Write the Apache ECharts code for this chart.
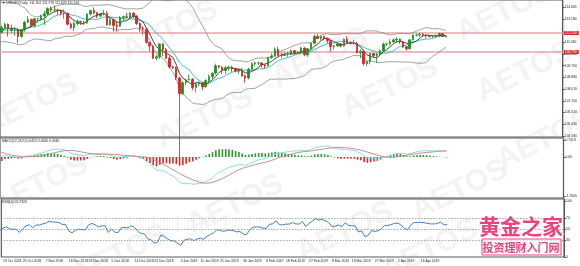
<!DOCTYPE html>
<html><head><meta charset="utf-8">
<script src="https://cdn.jsdelivr.net/npm/echarts@6/dist/echarts.min.js"></script>
<style>html,body{margin:0;padding:0;background:#fff}#c{width:580px;height:266px}</style>
</head><body><div id="c"></div>
<script>
// ---- data (daily USDJPY, first 34 bars are indicator history before the visible window) ----
const dates = ["3 Sep 2018","4 Sep 2018","5 Sep 2018","6 Sep 2018","7 Sep 2018","10 Sep 2018","11 Sep 2018","12 Sep 2018","13 Sep 2018","14 Sep 2018","17 Sep 2018","18 Sep 2018","19 Sep 2018","20 Sep 2018","21 Sep 2018","24 Sep 2018","25 Sep 2018","26 Sep 2018","27 Sep 2018","28 Sep 2018","1 Oct 2018","2 Oct 2018","3 Oct 2018","4 Oct 2018","5 Oct 2018","8 Oct 2018","9 Oct 2018","10 Oct 2018","11 Oct 2018","12 Oct 2018","15 Oct 2018","16 Oct 2018","17 Oct 2018","18 Oct 2018",
"19 Oct 2018","22 Oct 2018","23 Oct 2018","24 Oct 2018","25 Oct 2018","26 Oct 2018","29 Oct 2018","30 Oct 2018","31 Oct 2018",
"1 Nov 2018","2 Nov 2018","5 Nov 2018","6 Nov 2018","7 Nov 2018","8 Nov 2018","9 Nov 2018","12 Nov 2018","13 Nov 2018","14 Nov 2018","15 Nov 2018","16 Nov 2018","19 Nov 2018","20 Nov 2018","21 Nov 2018","22 Nov 2018","23 Nov 2018","26 Nov 2018","27 Nov 2018","28 Nov 2018","29 Nov 2018","30 Nov 2018",
"3 Dec 2018","4 Dec 2018","5 Dec 2018","6 Dec 2018","7 Dec 2018","10 Dec 2018","11 Dec 2018","12 Dec 2018","13 Dec 2018","14 Dec 2018","17 Dec 2018","18 Dec 2018","19 Dec 2018","20 Dec 2018","21 Dec 2018","24 Dec 2018","25 Dec 2018","26 Dec 2018","27 Dec 2018","28 Dec 2018","31 Dec 2018",
"1 Jan 2019","2 Jan 2019","3 Jan 2019","4 Jan 2019","7 Jan 2019","8 Jan 2019","9 Jan 2019","10 Jan 2019","11 Jan 2019","14 Jan 2019","15 Jan 2019","16 Jan 2019","17 Jan 2019","18 Jan 2019","21 Jan 2019","22 Jan 2019","23 Jan 2019","24 Jan 2019","25 Jan 2019","28 Jan 2019","29 Jan 2019","30 Jan 2019","31 Jan 2019",
"1 Feb 2019","4 Feb 2019","5 Feb 2019","6 Feb 2019","7 Feb 2019","8 Feb 2019","11 Feb 2019","12 Feb 2019","13 Feb 2019","14 Feb 2019","15 Feb 2019","18 Feb 2019","19 Feb 2019","20 Feb 2019","21 Feb 2019","22 Feb 2019","25 Feb 2019","26 Feb 2019","27 Feb 2019","28 Feb 2019",
"1 Mar 2019","4 Mar 2019","5 Mar 2019","6 Mar 2019","7 Mar 2019","8 Mar 2019","11 Mar 2019","12 Mar 2019","13 Mar 2019","14 Mar 2019","15 Mar 2019","18 Mar 2019","19 Mar 2019","20 Mar 2019","21 Mar 2019","22 Mar 2019","25 Mar 2019","26 Mar 2019","27 Mar 2019","28 Mar 2019","29 Mar 2019",
"1 Apr 2019","2 Apr 2019","3 Apr 2019","4 Apr 2019","5 Apr 2019","8 Apr 2019","9 Apr 2019","10 Apr 2019","11 Apr 2019","12 Apr 2019","15 Apr 2019","16 Apr 2019","17 Apr 2019","18 Apr 2019","19 Apr 2019","22 Apr 2019","23 Apr 2019","24 Apr 2019","25 Apr 2019","26 Apr 2019"];

const opens = [111.05,111.05,111.45,111.50,110.95,111.00,111.10,111.60,111.25,111.90,112.05,111.80,112.30,112.25,112.50,112.60,112.80,112.95,112.75,113.40,113.70,113.95,113.65,114.45,113.90,113.70,113.20,112.95,112.25,112.15,112.20,111.75,112.25,112.65,
112.20,112.55,112.80,112.45,112.40,112.40,111.90,112.40,112.95,
113.15,112.70,113.20,113.20,113.40,113.55,113.95,113.85,113.85,113.80,113.60,113.60,112.80,112.55,112.85,113.00,112.95,112.90,113.55,113.80,113.65,113.40,
113.55,113.60,112.75,113.15,112.70,112.65,113.30,113.35,113.30,113.60,113.40,112.85,112.50,112.45,111.45,111.20,110.30,110.40,111.35,110.95,110.30,
109.65,109.60,108.85,107.70,108.50,108.70,108.75,108.15,108.40,108.50,108.20,108.65,108.95,109.20,109.75,109.65,109.40,109.60,109.65,109.55,109.35,109.40,109.00,
108.85,109.50,109.90,109.95,109.95,109.80,109.75,110.35,110.45,110.95,110.50,110.50,110.60,110.60,110.85,110.70,110.70,111.05,110.55,111.00,
111.40,111.90,111.75,111.90,111.75,111.60,111.15,111.20,111.35,111.20,111.70,111.45,111.40,111.40,110.70,110.80,109.90,110.05,110.65,110.50,110.60,
110.85,111.35,111.35,111.50,111.65,111.70,111.50,111.15,111.00,111.65,112.00,112.00,112.05,112.00,111.95,111.90,111.90,111.95,112.10,111.902];

const highs = [111.20,111.55,111.75,111.55,111.10,111.20,111.65,111.65,112.05,112.15,112.10,112.40,112.45,112.55,112.85,112.90,113.05,113.15,113.45,113.70,114.05,114.00,114.55,114.55,114.05,113.80,113.30,113.00,112.45,112.35,112.25,112.30,112.75,112.70,
112.70,112.90,112.85,112.75,112.55,112.50,112.45,113.05,113.40,
113.20,113.25,113.25,113.50,113.80,114.05,114.10,114.20,113.95,113.90,113.90,113.65,112.90,113.00,113.15,113.05,113.05,113.60,113.85,114.05,113.70,113.60,
113.85,113.75,113.30,113.20,113.00,113.40,113.45,113.65,113.70,113.70,113.45,112.95,112.65,112.55,111.50,111.25,110.55,111.40,111.40,111.05,110.45,
109.75,109.70,108.95,108.60,108.80,109.10,108.85,108.50,108.60,108.55,108.75,109.10,109.25,109.90,109.80,109.70,109.75,109.75,109.75,109.60,109.55,109.60,109.10,
109.60,110.00,110.05,110.05,110.00,109.85,110.40,110.65,111.10,111.15,110.70,110.70,110.75,110.95,110.90,110.80,111.15,111.10,111.05,111.45,
112.05,112.10,111.95,111.95,111.80,111.65,111.30,111.45,111.40,111.75,111.90,111.55,111.65,111.50,110.95,110.95,110.10,110.70,110.70,110.70,110.95,
111.45,111.45,111.70,111.75,111.85,111.75,111.55,111.20,111.70,112.05,112.10,112.15,112.15,112.05,111.95,112.00,112.05,112.20,112.15,111.978];

const lows = [110.85,110.90,111.25,110.40,110.40,110.80,110.95,111.05,111.05,111.80,111.65,111.60,112.05,112.05,112.40,112.45,112.70,112.75,112.60,113.25,113.60,113.50,113.60,113.65,113.60,113.05,112.75,112.15,111.85,111.95,111.60,111.65,112.10,112.00,
112.10,112.40,111.90,112.15,111.95,111.40,111.80,112.25,112.90,
112.60,112.55,112.90,113.05,112.75,113.50,113.70,113.70,113.50,113.45,113.20,112.70,112.45,112.30,112.70,112.75,112.75,112.80,113.45,113.50,113.25,113.30,
113.45,112.70,112.70,112.25,112.25,112.60,113.05,113.25,113.25,113.25,112.75,112.25,112.05,111.40,110.80,110.25,110.15,110.25,110.45,110.25,109.55,
109.50,108.70,102.80,107.60,108.30,108.65,107.95,107.80,108.25,107.95,108.15,108.55,108.75,109.10,109.55,109.15,109.15,109.40,109.30,109.25,109.15,108.95,108.50,
108.75,109.40,109.75,109.80,109.60,109.55,109.70,110.25,110.40,110.45,110.30,110.45,110.40,110.55,110.55,110.60,110.60,110.45,110.40,110.85,
111.35,111.70,111.60,111.60,111.40,110.80,110.95,111.15,111.10,111.15,111.40,111.30,111.30,110.65,110.30,109.75,109.70,109.85,110.30,109.95,110.50,
110.80,111.20,111.25,111.45,111.45,111.35,111.05,110.85,110.95,111.60,111.90,111.85,111.90,111.75,111.85,111.80,111.80,111.85,111.85,111.829];

const closes = [111.05,111.45,111.50,110.95,111.00,111.10,111.60,111.25,111.90,112.05,111.80,112.30,112.25,112.50,112.60,112.80,112.95,112.75,113.40,113.70,113.95,113.65,114.45,113.90,113.70,113.20,112.95,112.25,112.15,112.20,111.75,112.25,112.65,112.20,
112.55,112.80,112.45,112.40,112.40,111.90,112.40,112.95,113.15,
112.70,113.20,113.20,113.40,113.55,113.95,113.85,113.85,113.80,113.60,113.60,112.80,112.55,112.85,113.00,112.95,112.90,113.55,113.80,113.65,113.40,113.55,
113.60,112.75,113.15,112.70,112.65,113.30,113.35,113.30,113.60,113.40,112.85,112.50,112.45,111.45,111.20,110.30,110.40,111.35,110.95,110.30,109.65,
109.60,108.85,107.70,108.50,108.70,108.75,108.15,108.40,108.50,108.20,108.65,108.95,109.20,109.75,109.65,109.40,109.60,109.65,109.55,109.35,109.40,109.00,108.85,
109.50,109.90,109.95,109.95,109.80,109.75,110.35,110.45,110.95,110.50,110.50,110.60,110.60,110.85,110.70,110.70,111.05,110.55,111.00,111.40,
111.90,111.75,111.90,111.75,111.60,111.15,111.20,111.35,111.20,111.70,111.45,111.40,111.40,110.70,110.80,109.90,110.05,110.65,110.50,110.60,110.85,
111.35,111.35,111.50,111.65,111.70,111.50,111.15,111.00,111.65,112.00,112.00,112.05,112.00,111.95,111.90,111.90,111.95,112.10,111.90,111.942];

const tickLabels = ["19 Oct 2018","29 Oct 2018","7 Nov 2018","16 Nov 2018","26 Nov 2018","5 Dec 2018","14 Dec 2018","24 Dec 2018","3 Jan 2019","11 Jan 2019","21 Jan 2019","30 Jan 2019","8 Feb 2019","18 Feb 2019","27 Feb 2019","8 Mar 2019","18 Mar 2019","27 Mar 2019","5 Apr 2019","16 Apr 2019"];
const priceTicks = [114.065,113.180,111.460,110.610,109.750,108.880,108.010,107.150,106.310,105.430,104.580];
const macdTicks = [0.7413,0,-1.7005];
const rsiTicks = [100,70,50,30,0];
const rsiLevels = [70,50,30];
const levelLines = [112.150,110.750];
const lastPrice = 111.942;

const WARM = 34;      // index of first visible bar
const SLOTS = 171;    // visible bar slots incl. right-side empty space

// ---- indicators computed from the price arrays ----
function sma(src,n){const o=[];let s=0;for(let i=0;i<src.length;i++){s+=src[i];if(i>=n)s-=src[i-n];o.push(i>=n-1?s/n:null);}return o;}
function ema(src,n){const k=2/(n+1);const o=[];let e=src[0];for(let i=0;i<src.length;i++){if(i>0)e=src[i]*k+e*(1-k);o.push(e);}return o;}
function bands(src,n,k){const up=[],lo=[];for(let i=0;i<src.length;i++){if(i<n-1){up.push(null);lo.push(null);continue;}let m=0;for(let j=i-n+1;j<=i;j++)m+=src[j];m/=n;let v=0;for(let j=i-n+1;j<=i;j++)v+=(src[j]-m)*(src[j]-m);const sd=Math.sqrt(v/n);up.push(m+k*sd);lo.push(m-k*sd);}return [up,lo];}
function rsi(src,n){const o=[null];let ag=0,al=0;for(let i=1;i<src.length;i++){const d=src[i]-src[i-1];const g=d>0?d:0,l=d<0?-d:0;if(i<=n){ag+=g/n;al+=l/n;o.push(i===n?100-100/(1+ag/(al||1e-9)):null);}else{ag=(ag*(n-1)+g)/n;al=(al*(n-1)+l)/n;o.push(100-100/(1+ag/(al||1e-9)));}}return o;}

const ma5 = sma(closes,5), ma10 = sma(closes,10);
const [bbUp,bbLo] = bands(closes,20,2);
const e12 = ema(closes,12), e26 = ema(closes,26);
const macd = e12.map((v,i)=>v-e26[i]);
const signal = sma(macd,9);
const hist = macd.map((v,i)=>signal[i]==null?null:v-signal[i]);
const rsi14 = rsi(closes,14);

const candles = opens.map((o,i)=>[o,closes[i],lows[i],highs[i]]);

const chart = echarts.init(document.getElementById('c'),null,{renderer:'canvas'});
const F = 'Liberation Sans, Arial, sans-serif';
const FS = 3.4;
const gridBase = {left:0,right:16,show:true,borderColor:'#5a5a5a',borderWidth:1.2,backgroundColor:'#fff'};
const xBase = (g)=>({type:'category',gridIndex:g,data:dates,min:WARM,max:WARM+SLOTS-1,boundaryGap:true,
  axisLine:{show:false},axisTick:{show:false},splitLine:{show:false},axisLabel:{show:false}});
const yBase = (g,mn,mx,vals,fmt)=>({type:'value',gridIndex:g,position:'right',min:mn,max:mx,scale:true,
  splitLine:{show:false},axisLine:{show:true,lineStyle:{color:'#555',width:1}},
  axisTick:{show:true,length:2,customValues:vals,lineStyle:{color:'#555'}},
  axisLabel:{show:true,customValues:vals,fontSize:FS,fontFamily:F,color:'#222',margin:2,formatter:fmt}});

const wm = [[30,105],[205,118],[320,58],[390,88],[525,72],[505,12],[170,30],[40,185],[235,205],[345,232],[545,140],[430,250],[120,255],[460,190]];
const graphics = wm.map(p=>({type:'text',x:p[0],y:p[1],rotation:0.45,z:50,silent:true,
  style:{text:'AETOS',font:'bold 30px '+F,fill:'rgba(160,160,160,0.13)',align:'center',verticalAlign:'middle'}}));
graphics.push(
 {type:'text',x:2,y:2,z:60,style:{text:'\u25BC USDJPY,Daily  111.902 111.978 111.829 111.942',font:FS+'px '+F,fill:'#222'}},
 {type:'text',x:2,y:140,z:60,style:{text:'MACD(12,26,9) 0.0413 0.0660 0.0665',font:FS+'px '+F,fill:'#222'}},
 {type:'text',x:2,y:201,z:60,style:{text:'RSI(14) 55.7124',font:FS+'px '+F,fill:'#222'}},
 {type:'text',x:521,y:226,z:70,style:{text:'黄金之家',font:'bold 21px "Noto Sans CJK SC"',fill:'#e8437c',stroke:'#fff',lineWidth:2,align:'center',verticalAlign:'middle'}},
 {type:'rect',z:69,shape:{x:482,y:239,width:79,height:16},style:{fill:'rgba(255,255,255,0.6)',stroke:'#e8437c',lineWidth:1}},
 {type:'text',x:521,y:247.5,z:70,style:{text:'投资理财入门网',font:'bold 11px "Noto Sans CJK SC"',fill:'#e8437c',align:'center',verticalAlign:'middle'}}
);

chart.setOption({
  animation:false,
  backgroundColor:'#fff',
  grid:[Object.assign({top:0,height:137},gridBase),Object.assign({top:138,height:60},gridBase),Object.assign({top:199,height:58},gridBase)],
  xAxis:[xBase(0),xBase(1),Object.assign(xBase(2),{axisLabel:{show:true,showMinLabel:true,interval:(i,v)=>tickLabels.includes(v),hideOverlap:false,align:'left',fontSize:FS,fontFamily:F,color:'#222',margin:3}})],
  yAxis:[
    yBase(0,104.51,114.58,priceTicks,v=>v.toFixed(3)),
    yBase(1,-1.7877,0.8285,macdTicks,v=>v===0?'0.00':v.toFixed(4)),
    yBase(2,0,103.57,rsiTicks,v=>String(v))
  ],
  series:[
    {type:'line',xAxisIndex:0,yAxisIndex:0,data:bbUp,showSymbol:false,lineStyle:{color:'#8a8a8a',width:0.8},z:3},
    {type:'line',xAxisIndex:0,yAxisIndex:0,data:bbLo,showSymbol:false,lineStyle:{color:'#8a8a8a',width:0.8},z:3},
    {type:'line',xAxisIndex:0,yAxisIndex:0,data:ma10,showSymbol:false,lineStyle:{color:'#3fc1c1',width:1},z:4},
    {type:'line',xAxisIndex:0,yAxisIndex:0,data:ma5,showSymbol:false,lineStyle:{color:'#1a1a1a',width:0.8},z:4},
    {type:'candlestick',xAxisIndex:0,yAxisIndex:0,data:candles,barWidth:2,clip:false,z:5,
      itemStyle:{color:'#1f8f1f',color0:'#d42a2a',borderColor:'#1f8f1f',borderColor0:'#c62222',borderWidth:0.8},
      markLine:{symbol:'none',silent:true,z:2,animation:false,
        data:[
          ...levelLines.map(v=>({yAxis:v,lineStyle:{color:'#e8a6a6',width:1.6,type:'solid'},
             label:{show:true,position:'end',distance:1,formatter:()=>v.toFixed(3),fontSize:FS,fontFamily:F,color:'#fff',backgroundColor:'#e0262a',padding:[1,2,0,1]}})),
          {yAxis:lastPrice,lineStyle:{opacity:0},label:{show:true,position:'end',distance:1,formatter:()=>lastPrice.toFixed(3),fontSize:FS,fontFamily:F,color:'#fff',backgroundColor:'#111',padding:[1,2,0,1]}}
        ]}},
    {type:'bar',xAxisIndex:1,yAxisIndex:1,data:hist,barWidth:1.6,
      itemStyle:{color:(p)=>p.value>=0?'#2a9a2a':'#d42a2a'}},
    {type:'line',xAxisIndex:1,yAxisIndex:1,data:macd,showSymbol:false,lineStyle:{color:'#86dde6',width:1}},
    {type:'line',xAxisIndex:1,yAxisIndex:1,data:signal,showSymbol:false,lineStyle:{color:'#c48c8c',width:1}},
    {type:'line',xAxisIndex:2,yAxisIndex:2,data:rsi14,showSymbol:false,lineStyle:{color:'#3f7fc4',width:1},
      markLine:{symbol:'none',silent:true,label:{show:false},lineStyle:{color:'#777',type:[1,2],width:1},data:rsiLevels.map(v=>({yAxis:v}))}}
  ],
  graphic:graphics
});
</script></body></html>
